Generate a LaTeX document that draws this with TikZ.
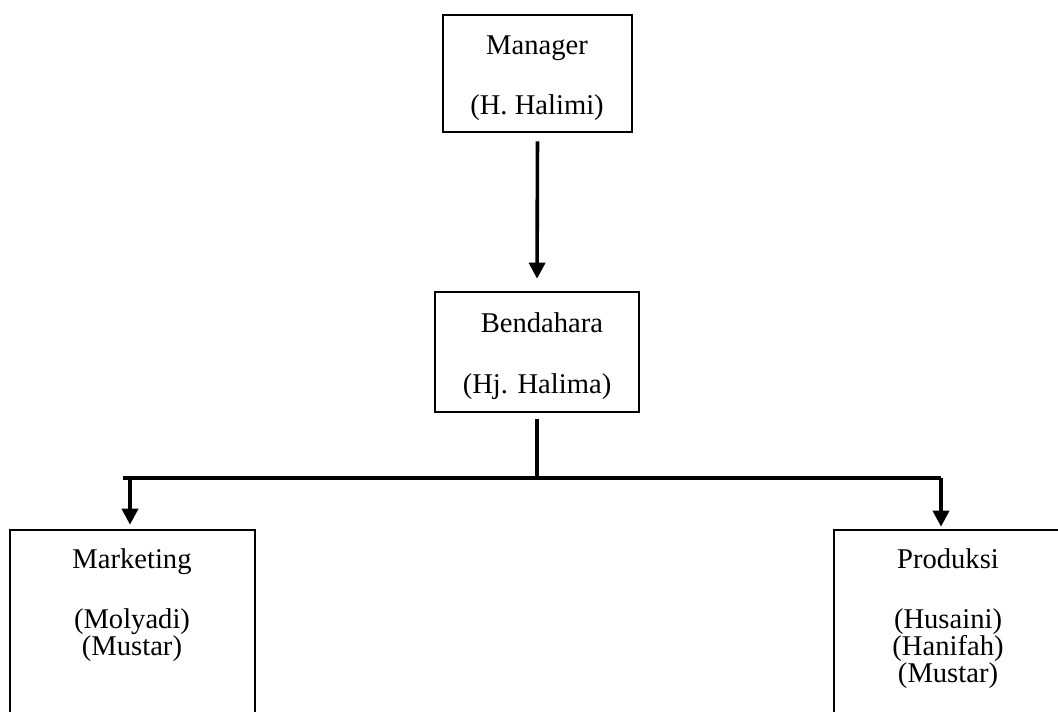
\documentclass[tikz,border=0pt]{standalone}
\usepackage{fontspec}
\setmainfont{Liberation Serif}
\usetikzlibrary{arrows.meta}

\begin{document}
\begin{tikzpicture}[
        x=0.5pt, y=-0.5pt,
        box/.style={draw, line width=1.3pt, inner sep=0pt},
        lbl/.style={anchor=base, inner sep=0pt, font=\fontsize{14.3}{16}\selectfont},
        link/.style={line width=1.8pt},
        arr/.style={link, -{Triangle[length=8pt, width=8pt]}},
    ]

    %% ---- frame (lower boxes run past the page edge) ----
    \clip (0,0) rectangle (1058,711);

    %% ---- Manager ----
    \node[box, minimum width=94.5pt, minimum height=58.5pt] (mgr) at (537.5,73.5) {};
    \node[lbl] (mgrT) at (537,55) {Manager};
    \node[lbl] (mgrN) at (537,115) {(H. Halimi)};

    %% ---- Bendahara ----
    \node[box, minimum width=102pt, minimum height=60pt] (bend) at (537,352) {};
    \node[lbl] (bendT) at (542,332) {Bendahara};
    \node[lbl] (bendN) at (537,393) {(Hj. Halima)};

    %% ---- Marketing ----
    \node[box, minimum width=122.5pt, minimum height=120pt] (mkt) at (132.5,650) {};
    \node[lbl] (mktT) at (132,568) {Marketing};
    \foreach \nm/\py [count=\i] in {Molyadi/628, Mustar/655} {
        \node[lbl] (mkt\i) at (132,\py) {(\nm)};
    }

    %% ---- Produksi ----
    \node[box, minimum width=133pt, minimum height=120pt] (prod) at (967,650) {};
    \node[lbl] (prodT) at (948,568) {Produksi};
    \foreach \nm/\py [count=\i] in {Husaini/628, Hanifah/655, Mustar/682} {
        \node[lbl] (prod\i) at (948,\py) {(\nm)};
    }

    %% ---- connectors ----
    \coordinate (split) at (537,478);
    \coordinate (lft) at (130,478);
    \coordinate (rgt) at (941,478);

    \draw[arr, shorten <=4pt, shorten >=6pt] (mgr.south) -- (bend.north);
    \draw[link, shorten <=3pt] (bend.south) -- (split);
    \draw[link] ([xshift=-3.5pt]lft) -- (rgt);
    \draw[arr, shorten >=2pt] (lft) -- (lft |- mkt.north);
    \draw[arr, shorten >=1pt] (rgt) -- (rgt |- prod.north);

\end{tikzpicture}
\end{document}
